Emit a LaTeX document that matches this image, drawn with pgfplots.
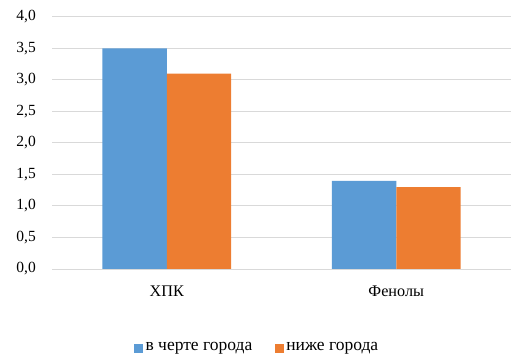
\documentclass[border=0pt]{standalone}
\usepackage{pgfplots}
\pgfplotsset{compat=1.18}
\usepackage{fontspec}
\setmainfont{Liberation Serif}
\newfontfamily\tnr{Liberation Serif}
\definecolor{cblue}{HTML}{5B9BD5}
\definecolor{corange}{HTML}{ED7D31}
\definecolor{cgrid}{HTML}{D9D9D9}
\newcommand{\cf}{\tnr\fontsize{15.5bp}{18bp}\selectfont}
\newcommand{\xf}{\tnr\fontsize{16.2bp}{19bp}\selectfont}
\newcommand{\lf}{\tnr\fontsize{17.5bp}{20bp}\selectfont}
\begin{document}
\cf
\begin{tikzpicture}
\useasboundingbox (0,0) rectangle (531bp,361bp);
\begin{axis}[
  at={(52bp,92bp)}, anchor=south west,
  scale only axis, width=459bp, height=252bp,
  xmin=-0.5, xmax=1.5, ymin=0, ymax=4,
  ybar=0pt, bar width=0.28,
  xtick={0,1}, xticklabels={ХПК, Фенолы},
  ytick={0,0.5,...,4},
  axis line style={draw=none},
  major tick length=0pt,
  ymajorgrids, grid style={cgrid, line width=1bp},
  /pgf/number format/assume math mode=true,
  yticklabel style={/pgf/number format/.cd, fixed, fixed zerofill, precision=1, use comma, /tikz/.cd, anchor=east, inner sep=0pt, xshift=-16bp, font=\cf},
  xticklabel style={anchor=north, inner sep=0pt, yshift=-17bp, font=\xf},
  legend style={at={(0.4475,-0.3135)}, anchor=center, draw=none, fill=none,
    legend columns=2, font=\lf,
    nodes={inner xsep=2.5bp, inner ysep=1bp},
    /tikz/every even column/.style={column sep=20bp}},
  legend image code/.code={\fill[#1] (0bp,-4.5bp) rectangle (9bp,4.5bp);},
]
\addplot[fill=cblue, draw=none] coordinates {(0,3.5) (1,1.4)};
\addplot[fill=corange, draw=none] coordinates {(0,3.1) (1,1.3)};
\legend{в черте города, ниже города}
\end{axis}
\end{tikzpicture}
\end{document}
